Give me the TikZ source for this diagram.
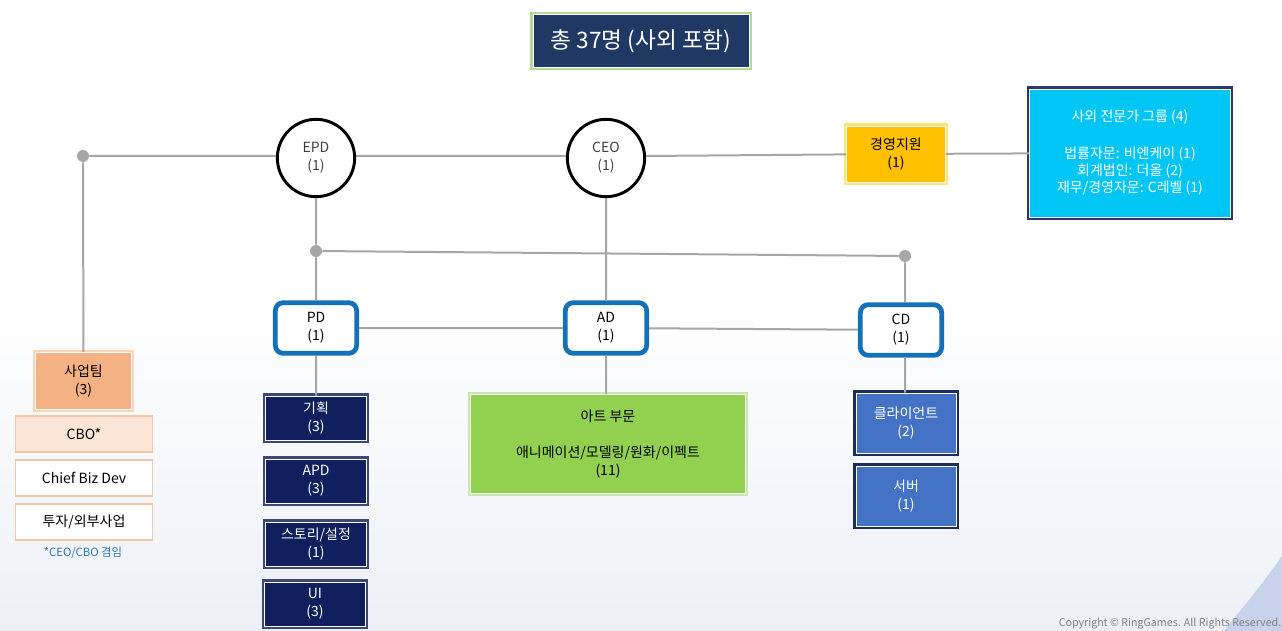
\documentclass[tikz,border=0pt]{standalone}
\usepackage{fontspec}
\setmainfont{Noto Sans CJK KR}
\definecolor{headnavy}{HTML}{1F3864}
\definecolor{headglow}{HTML}{B5DA98}
\definecolor{linegray}{HTML}{A6A6A6}
\definecolor{darktext}{HTML}{404040}
\definecolor{partblue}{HTML}{1271B9}
\definecolor{teamnavy}{HTML}{10205E}
\definecolor{teamglow}{HTML}{3C4775}
\definecolor{goldfill}{HTML}{FFC000}
\definecolor{goldglow}{HTML}{FFE27A}
\definecolor{skyfill}{HTML}{00C6F6}
\definecolor{skybrd}{HTML}{2A3A68}
\definecolor{bizfill}{HTML}{F4B183}
\definecolor{bizglow}{HTML}{FAD3B8}
\definecolor{cbofill}{HTML}{FBE5D6}
\definecolor{rolebrd}{HTML}{F4C7A6}
\definecolor{noteblue}{HTML}{2E75B6}
\definecolor{artgreen}{HTML}{92D050}
\definecolor{artglow}{HTML}{C9E6B0}
\definecolor{devblue}{HTML}{4472C4}
\definecolor{devbrd}{HTML}{1E2C58}
\definecolor{bgblue}{HTML}{ECF0F6}
\definecolor{cornerblue}{HTML}{C6D3EA}
\newcommand{\unitfont}{\fontsize{10.5}{13.5}\selectfont}
\newcommand{\headfont}{\fontsize{17}{20}\selectfont}
\newcommand{\outfont}{\fontsize{10.5}{12.75}\selectfont}
\newcommand{\remarkfont}{\fontsize{8.5}{10}\selectfont}
\newcommand{\footfont}{\fontsize{8}{10}\selectfont}
\begin{document}
\begin{tikzpicture}[x=0.75pt,y=-0.75pt,
  link/.style={draw=linegray, line width=1.5pt},
  panel/.style 2 args={rectangle, fill=#1, draw=white, line width=0.6pt,
    preaction={draw=#2, line width=4pt}, align=center, inner sep=0pt, font=\unitfont},
  team/.style={panel={teamnavy}{teamglow}, text=white, minimum width=76pt, minimum height=33pt},
  dev/.style={panel={devblue}{devbrd}, text=white, minimum width=75pt, minimum height=45pt},
  lead/.style={circle, draw=black, line width=2.2pt, fill=white, minimum size=58pt,
    inner sep=0pt, text=darktext, align=center, font=\unitfont},
  part/.style={rectangle, rounded corners=6pt, draw=partblue, line width=3.6pt, fill=white,
    minimum width=61pt, minimum height=38pt, align=center, font=\unitfont},
  joint/.style={circle, fill=linegray, minimum size=9pt, inner sep=0pt},
  role/.style={rectangle, draw=rolebrd, line width=0.8pt, minimum width=103pt,
    minimum height=27pt, font=\unitfont}]
\useasboundingbox (0,0) rectangle (1282,631);
\clip (0,0) rectangle (1282,631);
\fill[top color=white, bottom color=bgblue] (0,300) rectangle (1282,631);
\fill[cornerblue] (1282,556) .. controls (1262,585) and (1242,608) .. (1224,631) -- (1282,631) -- cycle;

\node[panel={headnavy}{headglow}, minimum width=162pt, minimum height=40pt, text=white, font=\headfont] (total) at (641,41) {총 37명 (사외 포함)};

\node[joint] (jl) at (83,156) {};
\node[joint] (jm) at (316,251) {};
\node[joint] (jr) at (905,256) {};

\node[lead] (epd) at (316,158) {EPD\\(1)};
\node[lead] (ceo) at (606,158) {CEO\\(1)};
\node[panel={goldfill}{goldglow}, minimum width=74pt, minimum height=42pt] (mgmt) at (896,154) {경영지원\\(1)};
\node[panel={skyfill}{skybrd}, minimum width=151pt, minimum height=96pt, text=white, font=\outfont] (ext) at (1130,153) {사외 전문가 그룹 (4)\\[15pt]법률자문: 비엔케이 (1)\\회계법인: 더올 (2)\\재무/경영자문: C레벨 (1)};

\node[panel={bizfill}{bizglow}, minimum width=72pt, minimum height=43pt] (biz) at (83.5,381) {사업팀\\(3)};
\node[role, fill=cbofill] (cbo) at (84,434) {CBO*};
\node[role, fill=white] (cbd) at (84,478) {Chief Biz Dev};
\node[role, fill=white] (inv) at (84,522) {투자/외부사업};
\node[text=noteblue, font=\remarkfont] (note) at (83,553) {*CEO/CBO 겸임};

\node[part] (pd) at (316,328) {PD\\(1)};
\node[part] (ad) at (606,328) {AD\\(1)};
\node[part] (cd) at (901,330) {CD\\(1)};

\node[team] (plan) at (316,418) {기획\\(3)};
\node[team] (apd) at (316,481) {APD\\(3)};
\node[team] (story) at (316,544) {스토리/설정\\(1)};
\node[team] (ui) at (315,604) {UI\\(3)};

\node[panel={artgreen}{artglow}, minimum width=206pt, minimum height=74pt] (art) at (608,444) {아트 부문\\[13.5pt]애니메이션/모델링/원화/이펙트\\(11)};

\node[dev] (client) at (906,423) {클라이언트\\(2)};
\node[dev] (server) at (906,496) {서버\\(1)};

\node[anchor=south, inner sep=1pt, text=gray, font=\footfont] (copy) at (1170,631) {Copyright © RingGames. All Rights Reserved.};

\path[link]
(jl) -- (epd.west |- jl)
(epd.east |- jl) -- (ceo.west |- jl)
(ceo.east |- jl) -- (mgmt)
(mgmt) -- (ext)
(jl) -- (biz)
(epd) -- (jm)
(jm) -- (pd)
(jm) -- (jr)
(jr) -- (jr |- cd.north)
(ceo) -- (ad)
(pd) -- (ad)
(ad) -- (cd)
(pd) -- (plan)
(ad.south) -- (ad.south |- art.north)
(jr |- cd.south) -- (jr |- client.north);
\end{tikzpicture}
\end{document}
